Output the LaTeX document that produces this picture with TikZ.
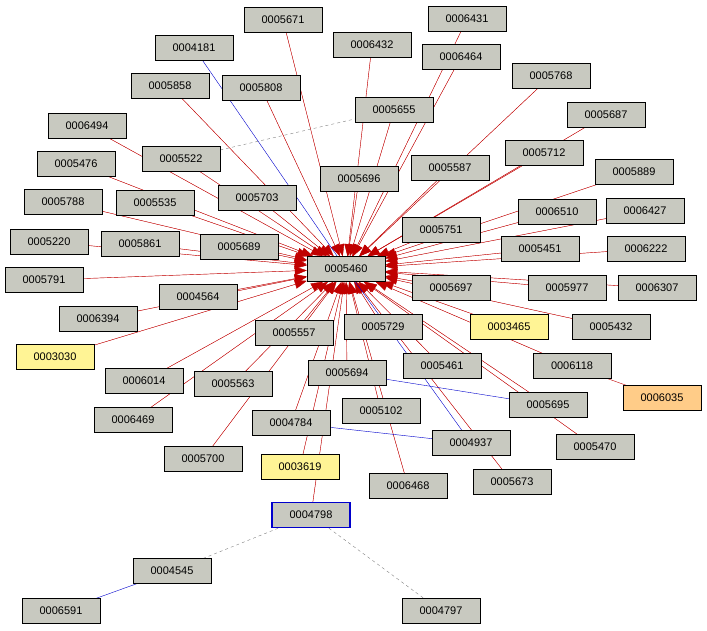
\documentclass[tikz,border=0pt]{standalone}
\usepackage{fontspec}
\setmainfont{Liberation Sans}
\usetikzlibrary{arrows.meta}
\pgfdeclarelayer{bg}\pgfsetlayers{bg,main}
\definecolor{nodegray}{HTML}{C8C9C0}
\definecolor{nodeyel}{HTML}{FFF495}
\definecolor{nodeorg}{HTML}{FFCC88}
\definecolor{edred}{HTML}{C00000}
\definecolor{edblue}{HTML}{0000CC}
\tikzset{
 nd/.style={draw=black,fill=nodegray,minimum width=78pt,minimum height=25pt,inner sep=0pt,font=\fontsize{11}{11}\selectfont},
 yel/.style={nd,fill=nodeyel},
 org/.style={nd,fill=nodeorg},
 sel/.style={nd,draw=edblue,line width=1.5pt},
 red/.style={draw=edred,-{Triangle[length=12pt,width=9pt]},fill=edred},
 redl/.style={draw=edred},
 bl/.style={draw=edblue},
 gd/.style={draw=gray,dashed}
}
\begin{document}
\begin{tikzpicture}[x=1pt,y=-1pt]
\useasboundingbox (0,0) rectangle (707,631);
\node[nd] (c) at (346,269) {0005460};
\foreach \n/\x/\y in {
0005671/283/20,0006431/467/19,0006432/372/45,0006464/461/57,0005768/551/76,
0005858/170/86,0005808/261/88,0005655/394/110,0005687/606/115,0006494/87/126,
0005522/181/159,0005712/544/153,0005476/76/164,0005696/359/179,0005587/450/168,
0005889/634/172,0005788/63/202,0005535/155/203,0005703/257/198,0006510/557/212,
0006427/645/211,0005751/441/230,0005220/49/242,0005861/140/244,0005689/239/247,
0005451/540/249,0006222/646/249,0005791/44/280,0005697/451/288,0005977/567/288,
0006307/657/288,0004564/198/297,0006394/98/319,0005557/294/333,0005729/383/327,
0005432/611/327,0006014/144/381,0005563/233/384,0005694/347/373,0005461/442/366,
0006118/572/366,0006469/133/420,0005102/381/411,0005695/548/405,0004784/291/423,
0005470/595/447,0005700/203/459,0006468/408/486,0005673/512/482}{
 \node[nd] (n\n) at (\x,\y) {\n};
 \begin{pgfonlayer}{bg}\draw[red] (n\n) -- (c);\end{pgfonlayer}
}
\foreach \n/\x/\y in {0003465/509/327,0003030/55/357,0003619/300/467}{
 \node[yel] (n\n) at (\x,\y) {\n};
 \begin{pgfonlayer}{bg}\draw[red] (n\n) -- (c);\end{pgfonlayer}
}
\node[nd] (n0004181) at (194,48) {0004181};
\node[nd] (n0004937) at (471,443) {0004937};
\node[org] (n0006035) at (662,398) {0006035};
\node[sel] (n0004798) at (311,515) {0004798};
\node[nd] (n0004545) at (172,571) {0004545};
\node[nd] (n0006591) at (61,611) {0006591};
\node[nd] (n0004797) at (441,611) {0004797};
\begin{pgfonlayer}{bg}
\draw[bl] (n0004181) -- (c);
\draw[bl] (c) -- (n0004937);
\draw[bl] (n0005694) -- (n0005695);
\draw[bl] (n0004784) -- (n0004937);
\draw[bl] (n0004545) -- (n0006591);
\draw[redl] (n0006118) -- (n0006035);
\draw[red] (n0004798) -- (c);
\draw[gd] (n0005522) -- (n0005655);
\draw[gd] (n0004798) -- (n0004545);
\draw[gd] (n0004798) -- (n0004797);
\end{pgfonlayer}
\end{tikzpicture}
\end{document}
